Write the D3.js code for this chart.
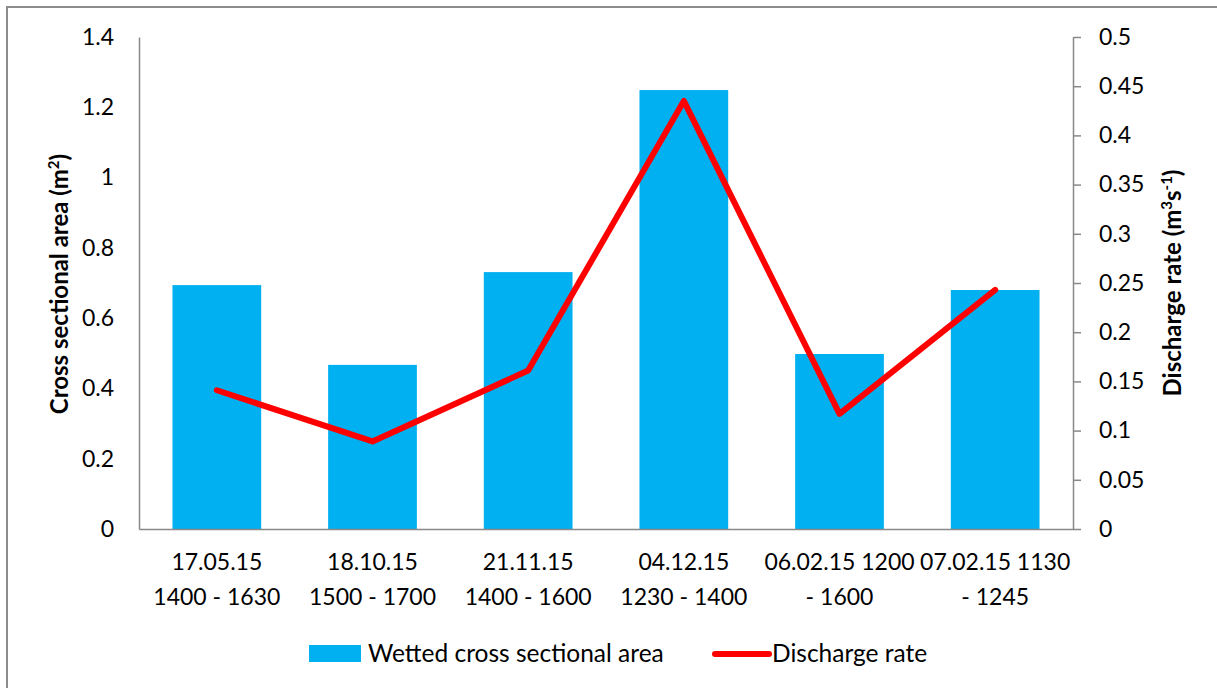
<!DOCTYPE html>
<html><head><meta charset="utf-8">
<script src="https://cdn.jsdelivr.net/npm/d3@7"></script>
<style>body{margin:0;background:#fff}svg{display:block}text{font-family:Lato,"Open Sans",sans-serif;fill:#000}</style>
</head><body><svg id="c" width="1217" height="688"></svg>
<script>
const categories = ["17.05.15 1400 - 1630","18.10.15 1500 - 1700","21.11.15 1400 - 1600","04.12.15 1230 - 1400","06.02.15 1200 - 1600","07.02.15 1130 - 1245"];
const categoryLines = [["17.05.15","1400 - 1630"],["18.10.15","1500 - 1700"],["21.11.15","1400 - 1600"],["04.12.15","1230 - 1400"],["06.02.15 1200","- 1600"],["07.02.15 1130","- 1245"]];
const areaValues = [0.694, 0.467, 0.731, 1.249, 0.498, 0.680];
const dischargeValues = [0.141, 0.089, 0.161, 0.435, 0.117, 0.243];
const leftTicks = [0, 0.2, 0.4, 0.6, 0.8, 1, 1.2, 1.4];
const rightTicks = [0, 0.05, 0.1, 0.15, 0.2, 0.25, 0.3, 0.35, 0.4, 0.45, 0.5];

const svg = d3.select("#c");
const FS = 23, FT = 24, FLG = 24.5;
const L = 139, R = 1073, T = 37, B = 529;
svg.append("rect").attr("x",7).attr("y",7).attr("width",1230).attr("height",700)
  .attr("fill","none").attr("stroke","#8c8c8c").attr("stroke-width",2);

const x = d3.scaleBand().domain(categories).range([L,R]).paddingInner(0.43).paddingOuter(0.215);
const yL = d3.scaleLinear().domain([0,1.4]).range([B,T]);
const yR = d3.scaleLinear().domain([0,0.5]).range([B,T]);

// bars
svg.append("g").selectAll("rect").data(areaValues).join("rect")
  .attr("x",(d,i)=>x(categories[i])).attr("width",x.bandwidth())
  .attr("y",d=>yL(d)).attr("height",d=>B-yL(d)).attr("fill","#00b0f0");

// left axis
const gL = svg.append("g").attr("transform",`translate(${L},0)`)
  .call(d3.axisLeft(yL).tickValues(leftTicks).tickSize(0).tickPadding(25).tickFormat(d3.format("~g")));
gL.select(".domain").attr("stroke","#898989").attr("stroke-width",1.5);
gL.selectAll("text").style("font-size",FS+"px").style("font-family","Lato");

// right axis
const gR = svg.append("g").attr("transform",`translate(${R},0)`)
  .call(d3.axisRight(yR).tickValues(rightTicks).tickSize(8).tickSizeOuter(0).tickPadding(18).tickFormat(d3.format("~g")));
gR.select(".domain").attr("stroke","#898989").attr("stroke-width",1.5);
gR.selectAll(".tick line").attr("stroke","#898989").attr("stroke-width",1.5);
gR.selectAll("text").style("font-size",FS+"px").style("font-family","Lato");

// x axis
const gX = svg.append("g").attr("transform",`translate(0,${B})`)
  .call(d3.axisBottom(x).tickSize(0).tickFormat(""));
gX.select(".domain").attr("stroke","#898989").attr("stroke-width",1.5);
gX.selectAll(".tick").each(function(d,i){
  const t = d3.select(this).append("text").attr("text-anchor","middle").style("font-size",FS+"px");
  categoryLines[i].forEach((s,j)=>t.append("tspan").attr("x",0).attr("y",41+j*35).text(s));
});

// line
const line = d3.line().x((d,i)=>x(categories[i])+x.bandwidth()/2).y(d=>yR(d));
svg.append("path").datum(dischargeValues).attr("d",line).attr("fill","none")
  .attr("stroke","#ff0000").attr("stroke-width",6).attr("stroke-linejoin","round").attr("stroke-linecap","round");

// axis titles
svg.append("text").attr("transform","translate(68,284) rotate(-90)").attr("text-anchor","middle")
  .style("font-size",FT+"px").style("font-weight","bold")
  .html('Cross sectional area (m<tspan dy="-9" font-size="15">2</tspan><tspan dy="9">)</tspan>');
svg.append("text").attr("transform","translate(1181,283) rotate(-90)").attr("text-anchor","middle")
  .style("font-size",FT+"px").style("font-weight","bold")
  .html('Discharge rate (m<tspan dy="-9" font-size="15">3</tspan><tspan dy="9">s</tspan><tspan dy="-9" font-size="15">-1</tspan><tspan dy="9">)</tspan>');

// legend
const lg = svg.append("g");
lg.append("rect").attr("x",309).attr("y",645).attr("width",52).attr("height",17).attr("fill","#00b0f0");
lg.append("text").attr("x",368).attr("y",662).style("font-size",FLG+"px").text("Wetted cross sectional area");
lg.append("line").attr("x1",715).attr("x2",769).attr("y1",654).attr("y2",654).attr("stroke","#ff0000").attr("stroke-width",6).attr("stroke-linecap","round");
lg.append("text").attr("x",772).attr("y",662).style("font-size",FLG+"px").text("Discharge rate");
</script></body></html>
